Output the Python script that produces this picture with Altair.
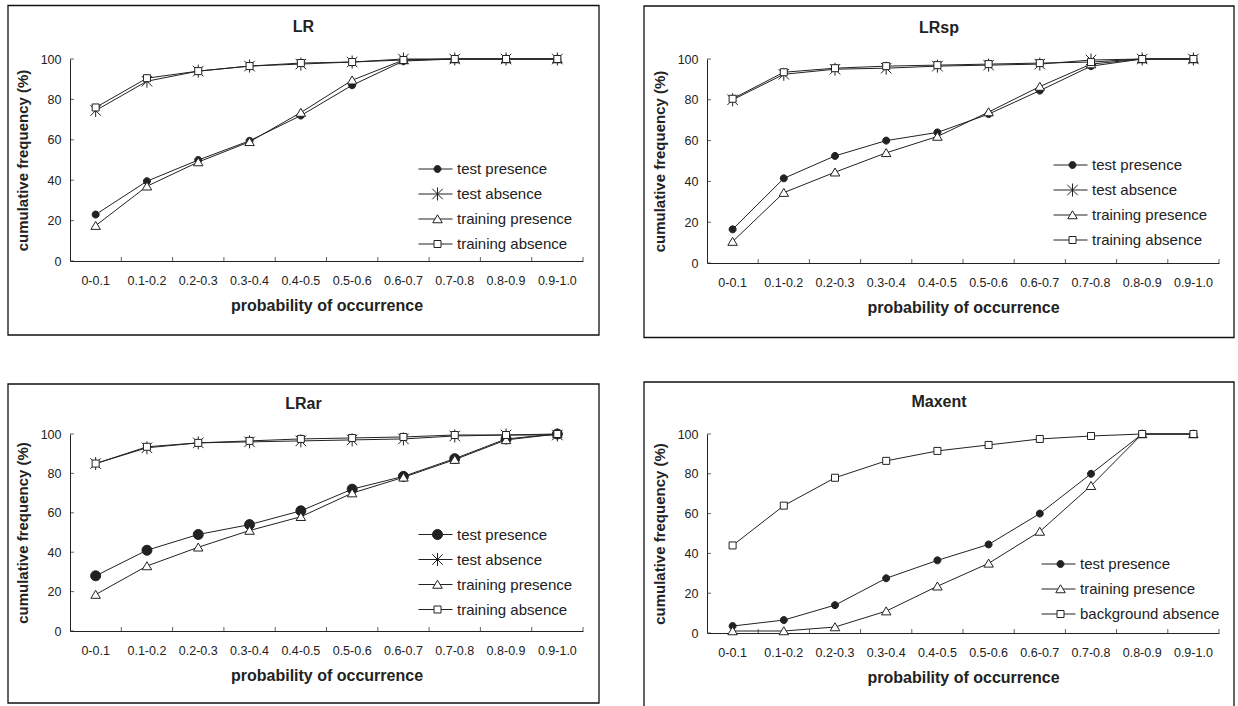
import altair as alt
import pandas as pd

# ---------------- data ----------------
CATS = ["0-0.1", "0.1-0.2", "0.2-0.3", "0.3-0.4", "0.4-0.5",
        "0.5-0.6", "0.6-0.7", "0.7-0.8", "0.8-0.9", "0.9-1.0"]
Y_TICKS = [0, 20, 40, 60, 80, 100]

SERIES_4 = ["test presence", "test absence", "training presence", "training absence"]
SERIES_MAX = ["test presence", "training presence", "background absence"]

LR_TEST_PRES = [23, 39.5, 50, 59.5, 72, 87, 99, 100, 100, 100]
LR_TEST_ABS = [74.5, 89, 94, 96.5, 97.5, 98.5, 100, 100, 100, 100]
LR_TRAIN_PRES = [17.5, 37, 49, 59, 73.5, 89.5, 99.5, 100, 100, 100]
LR_TRAIN_ABS = [76, 90.5, 94, 96.5, 98, 98.5, 99.5, 100, 100, 100]

LRSP_TEST_PRES = [16.5, 41.5, 52.5, 60, 64, 73, 84.5, 96.5, 100, 100]
LRSP_TEST_ABS = [80, 92.5, 95, 95.5, 96.5, 97, 97.5, 99.5, 100, 100]
LRSP_TRAIN_PRES = [10.5, 34.5, 44.5, 54, 62, 74, 86.5, 97.5, 100, 100]
LRSP_TRAIN_ABS = [80.5, 93.5, 95.5, 96.5, 97, 97.5, 98, 98.5, 100, 100]

LRAR_TEST_PRES = [28, 41, 49, 54, 61, 72, 78.5, 87.5, 97.5, 100]
LRAR_TEST_ABS = [85, 93, 95.5, 96, 96.5, 97, 97.5, 99, 99.5, 99.5]
LRAR_TRAIN_PRES = [18.5, 33, 42.5, 51, 58, 70, 78, 87, 97, 100]
LRAR_TRAIN_ABS = [85, 93.5, 95.5, 96.5, 97.5, 98, 98.5, 99.5, 99.5, 100]

MAX_TEST_PRES = [3.5, 6.5, 14, 27.5, 36.5, 44.5, 60, 80, 100, 100]
MAX_TRAIN_PRES = [1, 1, 3, 11, 23.5, 35, 51, 74, 100, 100]
MAX_BG_ABS = [44, 64, 78, 86.5, 91.5, 94.5, 97.5, 99, 100, 100]

# ---------------- styles ----------------
FONT = "Liberation Sans"
INK = "#222222"
CIRCLE = "M0.7,0A0.7,0.7,0,1,1,-0.7,0A0.7,0.7,0,1,1,0.7,0Z"
CIRCLE_BIG = "M1,0A1,1,0,1,1,-1,0A1,1,0,1,1,1,0Z"
TRIANGLE = "M0,-0.85L0.95,0.75L-0.95,0.75Z"
SQUARE = "M-0.7,-0.7L0.7,-0.7L0.7,0.7L-0.7,0.7Z"
ASTERISK = "M-1.05,-1.05L1.05,1.05M-1.05,1.05L1.05,-1.05M0,-1.3L0,1.3"

LEG_FONT = 15
LEG_ROW = 15
LEG_PAD = 9


def panel(title, series, values, shapes, fills, W, H, L, T, R, B, lx, ly, toff):
    markers = ["m:" + s for s in series]
    rows = []
    for name, mk, vals in zip(series, markers, values):
        for c, v in zip(CATS, vals):
            rows.append({"cat": c, "value": v, "series": name, "marker": mk})
    df = pd.DataFrame(rows)

    xscale = alt.Scale(type="band", domain=CATS, paddingInner=0, paddingOuter=0)
    yscale = alt.Scale(domain=[0, 100], nice=False, zero=True)
    xaxis = alt.Axis(title="probability of occurrence", labelAngle=0, ticks=False,
                     tickSize=0, labelPadding=13, titlePadding=11, grid=False,
                     domainColor=INK, labelColor=INK, titleColor=INK,
                     labelFontSize=12.5, titleFontSize=16, titleFontWeight="bold",
                     labelFont=FONT, titleFont=FONT)
    yaxis = alt.Axis(title="cumulative frequency (%)", values=Y_TICKS, ticks=False,
                     tickSize=0, labelPadding=9, titlePadding=10, grid=False,
                     domainColor=INK, labelColor=INK, titleColor=INK,
                     labelFontSize=12.5, titleFontSize=15, titleFontWeight="bold",
                     labelFont=FONT, titleFont=FONT)
    x = alt.X("cat:N", scale=xscale, axis=xaxis, sort=CATS)
    y = alt.Y("value:Q", scale=yscale, axis=yaxis)

    frame = alt.Chart(pd.DataFrame({"f": [0]})).mark_rect(
        fillOpacity=0, stroke="#111111", strokeWidth=1.3
    ).encode(x=alt.value(-L), x2=alt.value(W + R), y=alt.value(-T), y2=alt.value(H + B))

    lines = alt.Chart(df).mark_line(strokeWidth=1).encode(
        x=x, y=y,
        stroke=alt.Stroke("series:N",
                          scale=alt.Scale(domain=series, range=[INK] * len(series)),
                          legend=alt.Legend(orient="none", legendX=lx, legendY=ly, title=None,
                                            symbolType="stroke", symbolSize=1156,
                                            symbolStrokeWidth=1, labelFontSize=LEG_FONT,
                                            labelFont=FONT, labelColor=INK,
                                            rowPadding=LEG_PAD, clipHeight=LEG_ROW,
                                            labelOffset=4)),
    )

    shape_legend = alt.Legend(orient="none", legendX=lx + 12, legendY=ly, title=None,
                              symbolSize=100, symbolStrokeWidth=1, symbolOpacity=1,
                              labelFontSize=LEG_FONT, labelFont=FONT, labelExpr="''",
                              rowPadding=LEG_PAD, clipHeight=LEG_ROW, labelOffset=4)
    points = alt.Chart(df).mark_point(filled=False, opacity=1, strokeWidth=1, size=100).encode(
        x=x, y=y,
        shape=alt.Shape("marker:N", scale=alt.Scale(domain=markers, range=shapes),
                        legend=shape_legend),
        fill=alt.Fill("marker:N", scale=alt.Scale(domain=markers, range=fills),
                      legend=shape_legend),
        color=alt.Color("marker:N", scale=alt.Scale(domain=markers, range=[INK] * len(markers)),
                        legend=shape_legend),
    )

    ytick_df = pd.DataFrame({"value": Y_TICKS})
    yticks = alt.Chart(ytick_df).mark_tick(orient="horizontal", size=4, thickness=1, color=INK).encode(
        y=alt.Y("value:Q", scale=yscale, axis=yaxis), x=alt.value(2)
    )
    xtick_df = pd.DataFrame({"cat": CATS})
    xticks = alt.Chart(xtick_df).mark_tick(orient="vertical", size=4, thickness=1, color=INK).encode(
        x=alt.X("cat:N", scale=xscale, axis=xaxis, sort=CATS, bandPosition=1), y=alt.value(H - 2)
    )

    return alt.layer(frame, lines, points, yticks, xticks).properties(
        width=W, height=H,
        title=alt.TitleParams(title, font=FONT, fontSize=16, fontWeight="bold", color=INK,
                              anchor="middle", frame="bounds", offset=toff),
    )


p_lr = panel("LR", SERIES_4,
             [LR_TEST_PRES, LR_TEST_ABS, LR_TRAIN_PRES, LR_TRAIN_ABS],
             [CIRCLE, ASTERISK, TRIANGLE, SQUARE], [INK, "transparent", "white", "white"],
             513, 202, 62, 53.5, 16, 74, 348, 102.5, -30)
p_lrsp = panel("LRsp", SERIES_4,
               [LRSP_TEST_PRES, LRSP_TEST_ABS, LRSP_TRAIN_PRES, LRSP_TRAIN_ABS],
               [CIRCLE, ASTERISK, TRIANGLE, SQUARE], [INK, "transparent", "white", "white"],
               512, 204, 63, 53, 15, 74.5, 346, 98.5, -31)
p_lrar = panel("LRar", SERIES_4,
               [LRAR_TEST_PRES, LRAR_TEST_ABS, LRAR_TRAIN_PRES, LRAR_TRAIN_ABS],
               [CIRCLE_BIG, ASTERISK, TRIANGLE, SQUARE], [INK, "transparent", "white", "white"],
               513, 197, 62, 50, 16, 72, 348, 93, -29)
p_max = panel("Maxent", SERIES_MAX,
              [MAX_TEST_PRES, MAX_TRAIN_PRES, MAX_BG_ABS],
              [CIRCLE, TRIANGLE, SQUARE], [INK, "white", "white"],
              512, 199, 63, 52, 15, 77, 334, 122.5, -29)

IND = dict(x="independent", y="independent", stroke="independent", color="independent",
           shape="independent", fill="independent")
LEG = dict(stroke="independent", shape="independent", fill="independent", color="independent")

row1 = alt.hconcat(p_lr, p_lrsp, spacing=43).resolve_scale(**IND).resolve_legend(**LEG)
row2 = alt.hconcat(p_lrar, p_max, spacing=43).resolve_scale(**IND).resolve_legend(**LEG)

chart = alt.vconcat(row1, row2, spacing=42).resolve_scale(**IND).resolve_legend(**LEG).properties(
    padding={"left": 7, "top": 4, "right": 0, "bottom": 0},
    background="white",
).configure_view(strokeWidth=0).configure_axis(labelFont=FONT, titleFont=FONT)

chart.save("out.html", embed_options={"renderer": "svg", "actions": False})
